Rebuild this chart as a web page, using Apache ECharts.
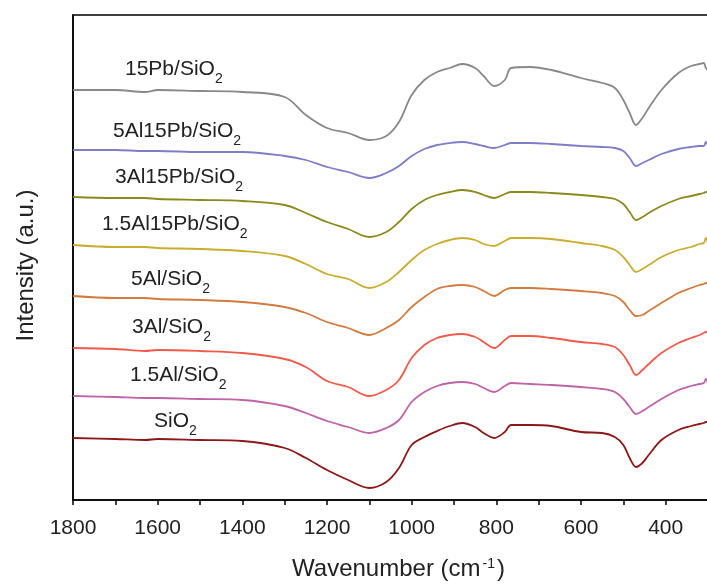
<!DOCTYPE html>
<html>
<head>
<meta charset="utf-8">
<script src="https://cdn.jsdelivr.net/npm/echarts@6/dist/echarts.min.js"></script>
<style>html,body{margin:0;padding:0;background:#fff;}#c{width:707px;height:586px;}</style>
</head>
<body>
<div id="c"></div>
<script>
// Wavenumber grid (cm-1)
var wavenumbers = [1800,1700,1630,1600,1500,1400,1300,1250,1200,1150,1100,1060,1030,1000,970,940,910,880,850,830,805,780,765,720,670,600,550,520,500,485,470,455,440,410,370,340,320,310,305,300];

// Offset intensities (a.u.)
var s15Pb      = [410,410,408,410,409,408,403,385,372,367,360,364,378,405,420,428,432,436,432,424,414,420,432,433,430,422,417,412,400,387,375,382,392,410,427,434,436,437,432,430];
var s5Al15Pb   = [350,350,349,349,348,348,344,340,333,328,322,327,334,344,351,355,357,358,356,354,352,355,357,357,356,354,353,352,349,342,334,337,340,346,351,353,354,354,358,354];
var s3Al15Pb   = [303,302,302,301,300,299,295,287,278,271,263,268,278,291,300,305,308,310,308,305,302,306,308,308,307,305,303,301,296,288,280,283,287,294,301,304,306,307,308,308];
var s15Al15Pb  = [255,253,253,252,251,249,244,236,226,221,212,218,228,240,250,256,260,262,260,256,254,259,262,262,261,257,254,250,243,235,228,231,235,243,250,253,256,257,262,255];
var s5Al       = [204,202,202,201,200,198,193,187,178,172,165,172,180,193,203,211,214,215,213,209,204,210,212,212,211,209,207,204,198,190,184,185,189,197,207,212,215,216,217,217];
var s3Al       = [152,151,149,150,149,147,141,133,119,113,104,110,120,142,155,162,165,166,163,158,152,160,164,164,162,158,156,153,145,135,125,130,136,147,157,162,165,167,168,168];
var s15Al      = [104,103,102,102,101,100,94,87,79,73,67,72,80,98,108,114,117,118,116,112,108,114,117,116,115,113,111,108,101,93,86,89,93,101,110,114,116,117,121,116];
var sSiO2      = [62,61,60,61,60,59,52,42,30,20,12,18,32,55,63,69,74,77,73,67,62,68,75,75,74,68,67,63,55,42,33,37,45,60,70,74,76,77,78,78];

var seriesNames = ['15Pb/SiO2','5Al15Pb/SiO2','3Al15Pb/SiO2','1.5Al15Pb/SiO2','5Al/SiO2','3Al/SiO2','1.5Al/SiO2','SiO2'];
var seriesValues = [s15Pb, s5Al15Pb, s3Al15Pb, s15Al15Pb, s5Al, s3Al, s15Al, sSiO2];
var labelMain = ['15Pb/SiO','5Al15Pb/SiO','3Al15Pb/SiO','1.5Al15Pb/SiO','5Al/SiO','3Al/SiO','1.5Al/SiO','SiO'];
var tickLabels = [1800,1600,1400,1200,1000,800,600,400];

var colors = ['#888888','#7d7dc8','#8a8a1c','#c9ad2e','#d27b3e','#f05a4a','#c062a6','#8b1818'];
var labelPos = [[125,59],[113,121],[115,167],[102,214],[131,269],[132,317],[130,365],[154,411]];

var FONT = '"Liberation Sans", Arial, sans-serif';

var series = seriesValues.map(function (vals, i) {
  return {
    name: seriesNames[i],
    type: 'line',
    data: wavenumbers.map(function (w, j) { return [w, vals[j]]; }),
    showSymbol: false,
    smooth: 0.35,
    clip: false,
    lineStyle: { color: colors[i], width: 1.8 },
    itemStyle: { color: colors[i] },
    silent: true
  };
});

var graphics = labelMain.map(function (t, i) {
  return {
    type: 'text',
    x: labelPos[i][0],
    y: labelPos[i][1],
    style: {
      text: '{a|' + t + '}{b|2}',
      textVerticalAlign: 'top',
      rich: {
        a: { fontFamily: FONT, fontSize: 21, lineHeight: 22, verticalAlign: 'top', fill: '#222' },
        b: { fontFamily: FONT, fontSize: 14, lineHeight: 14, padding: [13, 0, 0, 0], verticalAlign: 'top', fill: '#222' }
      }
    }
  };
});

var chart = echarts.init(document.getElementById('c'), null, { renderer: 'canvas' });
chart.setOption({
  animation: false,
  backgroundColor: '#fff',
  grid: { left: 73, right: -1, top: 15, bottom: 86, outerBoundsMode: 'none', containLabel: false, show: true, borderColor: '#000', borderWidth: 1.5, backgroundColor: 'transparent' },
  xAxis: {
    type: 'value',
    inverse: true,
    min: 300,
    max: 1800,
    interval: 100,
    name: '{a|Wavenumber (cm}{s|-1}{a|)}',
    nameLocation: 'middle',
    nameGap: 57,
    nameTextStyle: {
      padding: [0, 0, 0, 16],
      rich: {
        a: { fontFamily: FONT, fontSize: 24, lineHeight: 27, verticalAlign: 'top', color: '#222' },
        s: { fontFamily: FONT, fontSize: 14, lineHeight: 14, verticalAlign: 'top', color: '#222', padding: [0, 2, 0, 2] }
      }
    },
    axisLine: { show: true, lineStyle: { color: '#000', width: 1.5 } },
    axisTick: { show: true, inside: false, length: 5, lineStyle: { color: '#000', width: 1.5 } },
    axisLabel: {
      margin: 18,
      fontFamily: FONT,
      fontSize: 21,
      color: '#222',
      formatter: function (v) { return tickLabels.indexOf(v) >= 0 ? String(v) : ''; }
    },
    splitLine: { show: false }
  },
  yAxis: {
    type: 'value',
    min: 0,
    max: 485,
    name: 'Intensity (a.u.)',
    nameLocation: 'middle',
    nameGap: 35,
    nameTextStyle: { fontFamily: FONT, fontSize: 24, color: '#222', padding: [0, 16, 0, 0] },
    axisLine: { show: true, lineStyle: { color: '#000', width: 1.5 } },
    axisTick: { show: false },
    axisLabel: { show: false },
    splitLine: { show: false }
  },
  graphic: graphics,
  series: series
});
</script>
</body>
</html>
